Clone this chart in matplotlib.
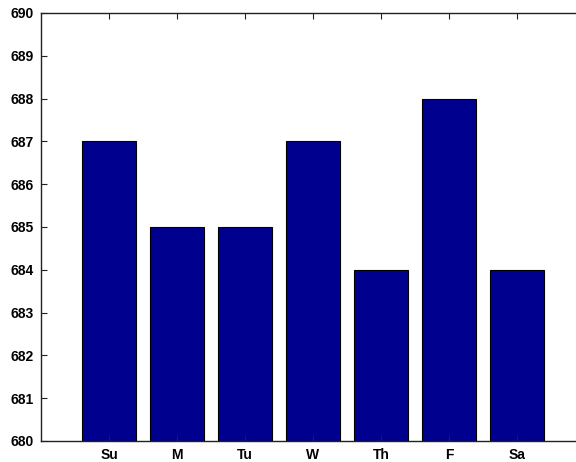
import matplotlib
matplotlib.use("Agg")
import matplotlib.pyplot as plt

days = ["Su", "M", "Tu", "W", "Th", "F", "Sa"]
values = [687, 685, 685, 687, 684, 688, 684]
yticks = list(range(680, 691))

plt.rcParams['font.family'] = ['Liberation Sans', 'DejaVu Sans']
fig = plt.figure(figsize=(5.76, 4.62), dpi=100)
ax = fig.add_axes([41/576, 1-441/462, 544/576, 428/462])
x = list(range(1, len(days) + 1))
ax.bar(x, [v - 680 for v in values], bottom=680, width=0.8, color='#00008F',
       edgecolor='black', linewidth=0.8)
ax.set_xlim(0, 8)
ax.set_ylim(680, 690)
ax.set_xticks(x)
ax.set_xticklabels(days, fontweight='bold', fontsize=10)
ax.set_yticks(yticks)
ax.set_yticklabels([str(t) for t in yticks], fontweight='bold', fontsize=10)
ax.tick_params(direction='in', top=True, right=True, length=4, width=0.8,
               color='#222222', pad=5)
for s in ax.spines.values():
    s.set_linewidth(1.0)
    s.set_color('#222222')
fig.savefig("out.png", dpi=100)
